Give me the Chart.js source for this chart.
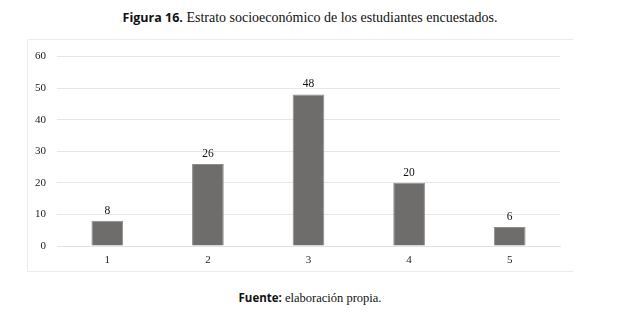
<!DOCTYPE html>
<html>
<head>
<meta charset="utf-8">
<script src="https://cdn.jsdelivr.net/npm/chart.js@4/dist/chart.umd.min.js"></script>
<style>
  body { margin: 0; background: #fff; width: 620px; height: 318px; position: relative; overflow: hidden; }
  .title { position: absolute; top: 9px; left: 0; width: 620px; text-align: center; font-family: "Liberation Serif", serif; font-size: 14px; color: #111; }
  .title b { font-family: "Open Sans", sans-serif; font-weight: 700; font-size: 12.5px; }
  .foot { position: absolute; top: 290px; left: 0; width: 620px; text-align: center; font-family: "Liberation Serif", serif; font-size: 12.5px; color: #111; }
  .foot b { font-family: "Open Sans", sans-serif; font-weight: 700; font-size: 11.5px; }
  #box { position: absolute; left: 27px; top: 39px; width: 546px; height: 233px; }
</style>
</head>
<body>
<div class="title"><b>Figura 16.</b> Estrato socioeconómico de los estudiantes encuestados.</div>
<div id="box"><canvas id="estratoChart"></canvas></div>
<div class="foot"><b>Fuente:</b> elaboración propia.</div>
<script>
const estratos = ['1', '2', '3', '4', '5'];
const estudiantes = [8, 26, 48, 20, 6];
const yTicks = [0, 10, 20, 30, 40, 50, 60];

// marco gris claro alrededor del grafico
const frame = {
    id: 'frame',
    beforeDraw(chart) {
        const c = chart.ctx;
        c.save();
        c.strokeStyle = '#ececec';
        c.lineWidth = 1;
        c.beginPath();
        c.moveTo(chart.width, 0.5);
        c.lineTo(0.5, 0.5);
        c.lineTo(0.5, chart.height - 0.5);
        c.lineTo(chart.width, chart.height - 0.5);
        c.stroke();
        c.restore();
    }
};

// valores encima de cada barra
const valueLabels = {
    id: 'valueLabels',
    afterDatasetsDraw(chart) {
        const c = chart.ctx;
        const meta = chart.getDatasetMeta(0);
        c.save();
        c.font = '11.5px "Liberation Serif", serif';
        c.fillStyle = '#111';
        c.textAlign = 'center';
        c.textBaseline = 'middle';
        meta.data.forEach((bar, i) => {
            c.fillText(estudiantes[i], bar.x, bar.y - 10);
        });
        c.restore();
    }
};

const ctx = document.getElementById('estratoChart').getContext('2d');
new Chart(ctx, {
    type: 'bar',
    data: {
        labels: estratos,
        datasets: [{
            label: 'Estudiantes',
            data: estudiantes,
            backgroundColor: '#6e6d6c',
            borderColor: '#8e8d8c',
            borderWidth: 1,
            categoryPercentage: 1,
            barPercentage: 0.315
        }]
    },
    options: {
        responsive: true,
        maintainAspectRatio: false,
        animation: false,
        layout: { padding: { top: 14, right: 13, left: 0, bottom: 0 } },
        plugins: {
            legend: { display: false },
            tooltip: { enabled: false }
        },
        scales: {
            x: {
                grid: { display: false, drawTicks: false },
                border: { color: '#e2e2e2' },
                ticks: { color: '#222', padding: 8, font: { family: '"Liberation Serif", serif', size: 11 } },
                afterFit(axis) { axis.height = 26; }
            },
            y: {
                min: 0,
                max: 60,
                afterBuildTicks(axis) { axis.ticks = yTicks.map(v => ({ value: v })); },
                grid: { color: '#e6e6e6', drawTicks: false },
                border: { display: false },
                ticks: { color: '#222', padding: 11, font: { family: '"Liberation Serif", serif', size: 11 } },
                afterFit(axis) { axis.width = 30; }
            }
        }
    },
    plugins: [frame, valueLabels]
});
</script>
</body>
</html>
